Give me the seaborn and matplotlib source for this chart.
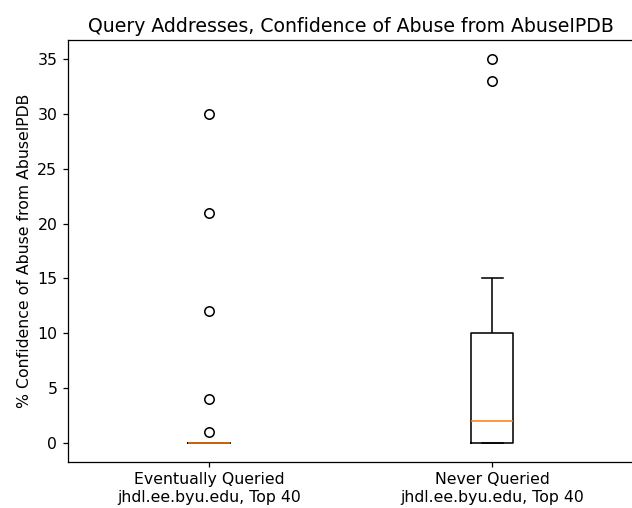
import numpy as np
import pandas as pd
import matplotlib
matplotlib.use("Agg")
import matplotlib.pyplot as plt
import seaborn as sns

# Category labels (x ticks)
groups = ["Eventually Queried\njhdl.ee.byu.edu, Top 40",
          "Never Queried\njhdl.ee.byu.edu, Top 40"]

# AbuseIPDB confidence scores (40 addresses per group)
eventually_queried = [0] * 35 + [1, 4, 12, 21, 30]
never_queried = ([0] * 15 + [1, 1, 2, 2, 2, 2, 3, 4, 5, 6, 7, 8, 9, 10, 10,
                             10, 11, 12, 13, 14, 15, 15, 15, 33, 35])

df = pd.DataFrame({
    "group": [groups[0]] * len(eventually_queried) + [groups[1]] * len(never_queried),
    "confidence": eventually_queried + never_queried,
})

# source image looks rendered a bit larger than 100 dpi, so bump sizes
scale = 1.13
plt.rcParams.update({
    "font.size": 10 * scale,
    "axes.titlesize": 12 * scale,
    "axes.linewidth": 0.8 * scale,
    "xtick.major.width": 0.8 * scale,
    "ytick.major.width": 0.8 * scale,
    "xtick.major.size": 3.5 * scale,
    "ytick.major.size": 3.5 * scale,
})

fig = plt.figure(figsize=(6.32, 5.08), dpi=100)
ax = fig.add_axes([0.1071, 0.0906, 0.8956, 0.8307])

lw = 1.0 * scale
sns.boxplot(data=df, x="group", y="confidence", order=groups, ax=ax,
            width=0.15, fill=False, color="black", linewidth=lw, whis=1.5,
            medianprops={"color": "#ff7f0e", "linewidth": lw},
            flierprops={"marker": "o", "markerfacecolor": "none",
                        "markeredgecolor": "black", "markersize": 6 * scale,
                        "markeredgewidth": lw})

ax.set_xlim(-0.5, 1.5)
ax.set_ylim(-1.75, 36.75)
ax.set_yticks(np.arange(0, 36, 5))
ax.set_xlabel("")
ax.set_ylabel("% Confidence of Abuse from AbuseIPDB")
ax.set_title("Query Addresses, Confidence of Abuse from AbuseIPDB")

fig.savefig("out.png", dpi=100)
